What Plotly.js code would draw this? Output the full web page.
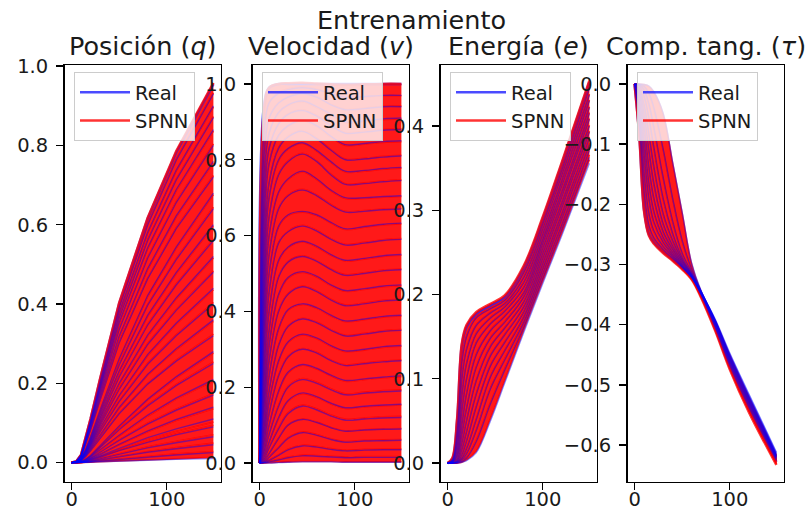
<!DOCTYPE html>
<html>
<head>
<meta charset="utf-8">
<script src="https://cdn.plot.ly/plotly-3.0.1.min.js"></script>
<style>
  html, body { margin: 0; padding: 0; background: #ffffff; }
  #chart { width: 807px; height: 512px; }
</style>
</head>
<body>
<div id="chart"></div>
<script>
// ---- Data -------------------------------------------------------------
// Sample instants for each state component
const tPos = [0, 5, 10, 15, 20, 30, 50, 80, 110, 149];
const tVel = [0, 5, 10, 20, 30, 45, 60, 75, 90, 110, 130, 149];
const tEne = [0, 5, 10, 15, 20, 30, 45, 60, 80, 100, 120, 149];
const tTau = [0, 5, 10, 15, 20, 30, 40, 50, 60, 70, 85, 100, 120, 149];

// Position q: one row per training trajectory
const posReal = [
  [0, 0.003, 0.019, 0.062, 0.110, 0.210, 0.401, 0.616, 0.783, 0.955],
  [0, 0.003, 0.019, 0.060, 0.107, 0.205, 0.391, 0.600, 0.763, 0.930],
  [0, 0.003, 0.018, 0.059, 0.104, 0.198, 0.378, 0.581, 0.738, 0.900],
  [0, 0.003, 0.017, 0.057, 0.100, 0.191, 0.365, 0.561, 0.713, 0.870],
  [0, 0.002, 0.017, 0.055, 0.097, 0.185, 0.353, 0.542, 0.689, 0.840],
  [0, 0.002, 0.016, 0.052, 0.092, 0.176, 0.336, 0.516, 0.656, 0.800],
  [0, 0.002, 0.015, 0.049, 0.087, 0.167, 0.319, 0.490, 0.623, 0.760],
  [0, 0.002, 0.014, 0.047, 0.083, 0.158, 0.302, 0.464, 0.590, 0.720],
  [0, 0.001, 0.010, 0.034, 0.065, 0.133, 0.262, 0.422, 0.544, 0.680],
  [0, 0.001, 0.010, 0.032, 0.061, 0.125, 0.246, 0.397, 0.512, 0.640],
  [0, 0.001, 0.009, 0.030, 0.057, 0.117, 0.231, 0.372, 0.480, 0.600],
  [0, 0.001, 0.008, 0.028, 0.053, 0.109, 0.216, 0.347, 0.448, 0.560],
  [0, 0.001, 0.008, 0.026, 0.049, 0.101, 0.200, 0.322, 0.416, 0.520],
  [0, 0.001, 0.007, 0.024, 0.046, 0.094, 0.185, 0.298, 0.384, 0.480],
  [0, 0.001, 0.007, 0.022, 0.042, 0.086, 0.169, 0.273, 0.352, 0.440],
  [0, 0.001, 0.006, 0.020, 0.038, 0.078, 0.154, 0.248, 0.320, 0.400],
  [0, 0.001, 0.005, 0.018, 0.034, 0.070, 0.139, 0.223, 0.288, 0.360],
  [0, 0.001, 0.005, 0.016, 0.030, 0.062, 0.123, 0.198, 0.256, 0.320],
  [0, 0.000, 0.002, 0.008, 0.018, 0.042, 0.092, 0.160, 0.217, 0.280],
  [0, 0.000, 0.002, 0.008, 0.016, 0.038, 0.083, 0.143, 0.194, 0.250],
  [0, 0.000, 0.002, 0.006, 0.014, 0.032, 0.069, 0.120, 0.163, 0.210],
  [0, 0.000, 0.001, 0.005, 0.011, 0.026, 0.056, 0.097, 0.132, 0.170],
  [0, 0.000, 0.001, 0.004, 0.009, 0.021, 0.046, 0.080, 0.109, 0.140],
  [0, 0.000, 0.001, 0.003, 0.007, 0.017, 0.036, 0.063, 0.085, 0.110],
  [0, 0.000, 0.001, 0.003, 0.006, 0.014, 0.030, 0.051, 0.070, 0.090],
  [0, 0.000, 0.000, 0.002, 0.004, 0.010, 0.021, 0.037, 0.050, 0.065],
  [0, 0.000, 0.000, 0.001, 0.003, 0.007, 0.015, 0.026, 0.035, 0.045],
  [0, 0.000, 0.000, 0.001, 0.002, 0.004, 0.008, 0.014, 0.019, 0.025],
  [0, 0.000, 0.000, 0.000, 0.001, 0.002, 0.003, 0.006, 0.008, 0.010]
];
const posSpnn = [
  [0, 0.003, 0.020, 0.063, 0.111, 0.212, 0.403, 0.618, 0.786, 0.958],
  [0, 0.003, 0.019, 0.061, 0.108, 0.206, 0.393, 0.602, 0.766, 0.933],
  [0, 0.003, 0.018, 0.058, 0.103, 0.197, 0.377, 0.579, 0.736, 0.897],
  [0, 0.003, 0.018, 0.057, 0.101, 0.192, 0.367, 0.563, 0.716, 0.873],
  [0, 0.002, 0.016, 0.054, 0.096, 0.183, 0.351, 0.540, 0.686, 0.836],
  [0, 0.002, 0.016, 0.053, 0.093, 0.177, 0.338, 0.519, 0.659, 0.804],
  [0, 0.002, 0.015, 0.049, 0.086, 0.166, 0.317, 0.487, 0.620, 0.756],
  [0, 0.002, 0.014, 0.047, 0.084, 0.159, 0.304, 0.466, 0.593, 0.724],
  [0, 0.001, 0.010, 0.034, 0.064, 0.131, 0.259, 0.419, 0.541, 0.676],
  [0, 0.001, 0.010, 0.033, 0.062, 0.126, 0.248, 0.399, 0.515, 0.644],
  [0, 0.001, 0.009, 0.030, 0.056, 0.116, 0.229, 0.369, 0.477, 0.596],
  [0, 0.001, 0.008, 0.028, 0.054, 0.110, 0.218, 0.350, 0.451, 0.564],
  [0, 0.001, 0.008, 0.026, 0.048, 0.100, 0.198, 0.319, 0.413, 0.516],
  [0, 0.001, 0.007, 0.024, 0.046, 0.095, 0.187, 0.301, 0.387, 0.484],
  [0, 0.001, 0.007, 0.022, 0.041, 0.085, 0.167, 0.270, 0.349, 0.436],
  [0, 0.001, 0.006, 0.020, 0.038, 0.079, 0.156, 0.251, 0.323, 0.404],
  [0, 0.001, 0.005, 0.018, 0.034, 0.069, 0.137, 0.221, 0.285, 0.356],
  [0, 0.001, 0.005, 0.016, 0.031, 0.063, 0.125, 0.200, 0.259, 0.324],
  [0, 0.000, 0.002, 0.008, 0.018, 0.041, 0.090, 0.158, 0.214, 0.276],
  [0, 0.000, 0.002, 0.008, 0.016, 0.039, 0.085, 0.146, 0.197, 0.254],
  [0, 0.000, 0.002, 0.006, 0.013, 0.031, 0.067, 0.117, 0.160, 0.206],
  [0, 0.000, 0.001, 0.005, 0.011, 0.027, 0.058, 0.100, 0.135, 0.174],
  [0, 0.000, 0.001, 0.004, 0.009, 0.021, 0.045, 0.078, 0.106, 0.136],
  [0, 0.000, 0.001, 0.003, 0.006, 0.015, 0.033, 0.058, 0.079, 0.102],
  [0, 0.000, 0.001, 0.003, 0.006, 0.014, 0.031, 0.053, 0.073, 0.094],
  [0, 0.000, 0.000, 0.002, 0.004, 0.011, 0.023, 0.040, 0.054, 0.070],
  [0, 0.000, 0.000, 0.001, 0.003, 0.007, 0.016, 0.028, 0.038, 0.049],
  [0, 0.000, 0.000, 0.001, 0.002, 0.005, 0.009, 0.016, 0.022, 0.028],
  [0, 0.000, 0.000, 0.000, 0.001, 0.002, 0.004, 0.007, 0.010, 0.013]
];

// Velocity v
const velReal = [
  [0, 0.95, 0.99, 1.000, 1.000, 1.000, 1.000, 1.000, 1.000, 1.000, 1.000, 1.000],
  [0, 0.88, 0.95, 0.975, 0.985, 0.990, 0.985, 0.975, 0.965, 0.967, 0.970, 0.970],
  [0, 0.82, 0.91, 0.950, 0.965, 0.975, 0.965, 0.945, 0.932, 0.935, 0.940, 0.940],
  [0, 0.76, 0.87, 0.925, 0.945, 0.955, 0.940, 0.920, 0.900, 0.903, 0.908, 0.910],
  [0, 0.70, 0.83, 0.895, 0.920, 0.930, 0.915, 0.890, 0.870, 0.873, 0.878, 0.880],
  [0, 0.64, 0.79, 0.865, 0.890, 0.905, 0.890, 0.862, 0.840, 0.843, 0.848, 0.850],
  [0, 0.58, 0.74, 0.830, 0.860, 0.875, 0.855, 0.825, 0.800, 0.802, 0.807, 0.810],
  [0, 0.52, 0.70, 0.800, 0.830, 0.845, 0.825, 0.795, 0.770, 0.772, 0.777, 0.780],
  [0, 0.47, 0.65, 0.760, 0.795, 0.815, 0.795, 0.760, 0.735, 0.737, 0.742, 0.745],
  [0, 0.42, 0.60, 0.715, 0.750, 0.770, 0.750, 0.720, 0.700, 0.700, 0.703, 0.705],
  [0, 0.37, 0.55, 0.670, 0.705, 0.720, 0.705, 0.680, 0.662, 0.664, 0.668, 0.670],
  [0, 0.33, 0.50, 0.625, 0.655, 0.664, 0.655, 0.635, 0.618, 0.624, 0.630, 0.633],
  [0, 0.28, 0.45, 0.580, 0.610, 0.625, 0.612, 0.590, 0.575, 0.580, 0.587, 0.590],
  [0, 0.24, 0.40, 0.535, 0.570, 0.585, 0.572, 0.550, 0.535, 0.540, 0.547, 0.550],
  [0, 0.20, 0.35, 0.490, 0.530, 0.545, 0.532, 0.510, 0.495, 0.500, 0.507, 0.510],
  [0, 0.17, 0.31, 0.445, 0.490, 0.505, 0.493, 0.470, 0.455, 0.460, 0.467, 0.470],
  [0, 0.14, 0.27, 0.400, 0.445, 0.465, 0.452, 0.430, 0.415, 0.420, 0.427, 0.430],
  [0, 0.11, 0.23, 0.355, 0.405, 0.420, 0.410, 0.390, 0.375, 0.380, 0.387, 0.390],
  [0, 0.09, 0.19, 0.310, 0.360, 0.380, 0.370, 0.350, 0.335, 0.340, 0.347, 0.350],
  [0, 0.07, 0.16, 0.270, 0.320, 0.340, 0.330, 0.310, 0.296, 0.300, 0.307, 0.310],
  [0, 0.055, 0.13, 0.230, 0.280, 0.300, 0.290, 0.270, 0.257, 0.262, 0.267, 0.270],
  [0, 0.04, 0.10, 0.190, 0.240, 0.260, 0.250, 0.232, 0.218, 0.222, 0.227, 0.230],
  [0, 0.03, 0.075, 0.150, 0.200, 0.220, 0.210, 0.193, 0.180, 0.184, 0.188, 0.190],
  [0, 0.02, 0.055, 0.120, 0.165, 0.185, 0.175, 0.158, 0.146, 0.150, 0.153, 0.155],
  [0, 0.013, 0.04, 0.090, 0.130, 0.150, 0.140, 0.124, 0.113, 0.116, 0.119, 0.120],
  [0, 0.008, 0.025, 0.065, 0.100, 0.115, 0.107, 0.093, 0.084, 0.087, 0.089, 0.090],
  [0, 0.004, 0.015, 0.040, 0.065, 0.080, 0.073, 0.062, 0.055, 0.058, 0.059, 0.060],
  [0, 0.002, 0.007, 0.020, 0.035, 0.045, 0.042, 0.036, 0.032, 0.034, 0.035, 0.035],
  [0, 0.001, 0.003, 0.008, 0.014, 0.019, 0.018, 0.016, 0.014, 0.015, 0.015, 0.015],
  [0, 0.000, 0.000, 0.001, 0.002, 0.003, 0.003, 0.003, 0.002, 0.002, 0.002, 0.002]
];
const velSpnn = [
  [0, 0.94, 0.99, 1.000, 1.002, 1.003, 1.001, 0.999, 0.998, 0.999, 1.000, 1.000],
  [0, 0.87, 0.95, 0.977, 0.987, 0.992, 0.986, 0.974, 0.963, 0.966, 0.969, 0.969],
  [0, 0.81, 0.91, 0.951, 0.966, 0.977, 0.966, 0.946, 0.933, 0.936, 0.941, 0.942],
  [0, 0.75, 0.87, 0.924, 0.944, 0.953, 0.938, 0.918, 0.898, 0.901, 0.906, 0.908],
  [0, 0.69, 0.83, 0.896, 0.921, 0.932, 0.917, 0.892, 0.872, 0.875, 0.880, 0.882],
  [0, 0.63, 0.79, 0.864, 0.889, 0.903, 0.888, 0.860, 0.838, 0.841, 0.846, 0.848],
  [0, 0.58, 0.74, 0.832, 0.862, 0.877, 0.857, 0.827, 0.802, 0.804, 0.809, 0.812],
  [0, 0.52, 0.70, 0.798, 0.828, 0.843, 0.823, 0.793, 0.768, 0.770, 0.775, 0.778],
  [0, 0.47, 0.65, 0.762, 0.797, 0.817, 0.797, 0.762, 0.737, 0.739, 0.744, 0.747],
  [0, 0.42, 0.60, 0.713, 0.748, 0.768, 0.748, 0.718, 0.698, 0.698, 0.701, 0.703],
  [0, 0.37, 0.55, 0.672, 0.707, 0.722, 0.707, 0.682, 0.664, 0.666, 0.670, 0.672],
  [0, 0.33, 0.50, 0.623, 0.653, 0.662, 0.653, 0.633, 0.616, 0.622, 0.628, 0.631],
  [0, 0.28, 0.45, 0.582, 0.612, 0.627, 0.614, 0.592, 0.577, 0.582, 0.589, 0.592],
  [0, 0.24, 0.40, 0.533, 0.568, 0.583, 0.570, 0.548, 0.533, 0.538, 0.545, 0.548],
  [0, 0.20, 0.35, 0.492, 0.532, 0.547, 0.534, 0.512, 0.497, 0.502, 0.509, 0.512],
  [0, 0.17, 0.31, 0.443, 0.488, 0.503, 0.491, 0.468, 0.453, 0.458, 0.465, 0.468],
  [0, 0.14, 0.27, 0.402, 0.447, 0.467, 0.454, 0.432, 0.417, 0.422, 0.429, 0.432],
  [0, 0.11, 0.23, 0.353, 0.403, 0.418, 0.408, 0.388, 0.373, 0.378, 0.385, 0.388],
  [0, 0.09, 0.19, 0.312, 0.362, 0.382, 0.372, 0.352, 0.337, 0.342, 0.349, 0.352],
  [0, 0.07, 0.16, 0.268, 0.318, 0.338, 0.328, 0.308, 0.294, 0.298, 0.305, 0.308],
  [0, 0.055, 0.13, 0.232, 0.282, 0.302, 0.292, 0.272, 0.259, 0.264, 0.269, 0.272],
  [0, 0.04, 0.10, 0.188, 0.238, 0.258, 0.248, 0.230, 0.216, 0.220, 0.225, 0.228],
  [0, 0.03, 0.078, 0.153, 0.203, 0.223, 0.213, 0.196, 0.183, 0.187, 0.191, 0.193],
  [0, 0.02, 0.055, 0.118, 0.163, 0.183, 0.173, 0.156, 0.144, 0.148, 0.151, 0.153],
  [0, 0.014, 0.042, 0.093, 0.133, 0.153, 0.143, 0.127, 0.116, 0.119, 0.122, 0.123],
  [0, 0.008, 0.026, 0.066, 0.101, 0.116, 0.108, 0.094, 0.085, 0.088, 0.090, 0.091],
  [0, 0.004, 0.016, 0.042, 0.067, 0.082, 0.075, 0.064, 0.057, 0.060, 0.061, 0.062],
  [0, 0.002, 0.008, 0.022, 0.037, 0.047, 0.044, 0.038, 0.034, 0.036, 0.037, 0.037],
  [0, 0.001, 0.004, 0.010, 0.016, 0.021, 0.020, 0.018, 0.016, 0.017, 0.017, 0.017],
  [0, 0.000, 0.001, 0.002, 0.003, 0.004, 0.004, 0.004, 0.003, 0.003, 0.003, 0.003]
];

// Energy e
const eneReal = [
  [0, 0.005, 0.050, 0.140, 0.162, 0.177, 0.187, 0.197, 0.232, 0.290, 0.355, 0.452],
  [0, 0.004, 0.040, 0.120, 0.150, 0.172, 0.183, 0.193, 0.226, 0.284, 0.348, 0.445],
  [0, 0.003, 0.030, 0.100, 0.135, 0.163, 0.178, 0.189, 0.220, 0.278, 0.342, 0.437],
  [0, 0.002, 0.022, 0.080, 0.118, 0.153, 0.172, 0.185, 0.214, 0.272, 0.335, 0.430],
  [0, 0.002, 0.016, 0.062, 0.100, 0.142, 0.165, 0.180, 0.208, 0.266, 0.329, 0.422],
  [0, 0.001, 0.011, 0.046, 0.082, 0.128, 0.157, 0.174, 0.202, 0.261, 0.322, 0.415],
  [0, 0.001, 0.008, 0.034, 0.065, 0.113, 0.148, 0.167, 0.197, 0.255, 0.316, 0.408],
  [0, 0.001, 0.005, 0.024, 0.050, 0.097, 0.138, 0.160, 0.191, 0.249, 0.309, 0.400],
  [0, 0.000, 0.003, 0.016, 0.037, 0.081, 0.127, 0.152, 0.185, 0.243, 0.303, 0.393],
  [0, 0.000, 0.002, 0.010, 0.026, 0.066, 0.115, 0.143, 0.179, 0.237, 0.296, 0.386],
  [0, 0.000, 0.001, 0.006, 0.017, 0.051, 0.102, 0.133, 0.173, 0.231, 0.290, 0.378],
  [0, 0.000, 0.001, 0.004, 0.011, 0.038, 0.088, 0.122, 0.167, 0.225, 0.283, 0.371],
  [0, 0.000, 0.000, 0.002, 0.006, 0.025, 0.070, 0.110, 0.161, 0.219, 0.277, 0.363],
  [0, 0.000, 0.000, 0.001, 0.003, 0.012, 0.050, 0.095, 0.155, 0.213, 0.270, 0.356]
];
const eneSpnn = [
  [0, 0.006, 0.052, 0.142, 0.164, 0.179, 0.189, 0.199, 0.234, 0.292, 0.357, 0.454],
  [0, 0.004, 0.041, 0.121, 0.151, 0.173, 0.184, 0.194, 0.227, 0.285, 0.349, 0.446],
  [0, 0.003, 0.031, 0.101, 0.136, 0.164, 0.179, 0.190, 0.221, 0.279, 0.343, 0.438],
  [0, 0.002, 0.023, 0.081, 0.119, 0.154, 0.173, 0.186, 0.215, 0.273, 0.336, 0.431],
  [0, 0.002, 0.017, 0.063, 0.101, 0.143, 0.166, 0.181, 0.209, 0.267, 0.330, 0.423],
  [0, 0.001, 0.012, 0.047, 0.083, 0.129, 0.158, 0.175, 0.203, 0.262, 0.323, 0.416],
  [0, 0.001, 0.009, 0.035, 0.066, 0.114, 0.149, 0.168, 0.198, 0.256, 0.317, 0.409],
  [0, 0.001, 0.006, 0.025, 0.051, 0.098, 0.139, 0.161, 0.192, 0.250, 0.310, 0.401],
  [0, 0.000, 0.004, 0.017, 0.038, 0.082, 0.128, 0.153, 0.186, 0.244, 0.304, 0.394],
  [0, 0.000, 0.002, 0.011, 0.027, 0.067, 0.116, 0.144, 0.180, 0.238, 0.297, 0.387],
  [0, 0.000, 0.001, 0.007, 0.018, 0.052, 0.103, 0.134, 0.174, 0.232, 0.291, 0.380],
  [0, 0.000, 0.001, 0.005, 0.012, 0.039, 0.089, 0.124, 0.169, 0.227, 0.285, 0.373],
  [0, 0.000, 0.000, 0.003, 0.007, 0.027, 0.072, 0.112, 0.163, 0.221, 0.279, 0.366],
  [0, 0.000, 0.000, 0.001, 0.004, 0.014, 0.053, 0.098, 0.158, 0.216, 0.273, 0.360]
];

// Tangential component tau
const tauReal = [
  [0, -0.085, -0.210, -0.250, -0.263, -0.279, -0.292, -0.306, -0.322, -0.352, -0.408, -0.470, -0.540, -0.628],
  [0, -0.070, -0.180, -0.235, -0.255, -0.275, -0.290, -0.305, -0.322, -0.351, -0.406, -0.468, -0.537, -0.626],
  [0, -0.055, -0.150, -0.215, -0.243, -0.270, -0.287, -0.304, -0.322, -0.350, -0.404, -0.465, -0.534, -0.624],
  [0, -0.042, -0.120, -0.190, -0.228, -0.263, -0.284, -0.303, -0.321, -0.349, -0.402, -0.462, -0.531, -0.622],
  [0, -0.030, -0.095, -0.165, -0.210, -0.255, -0.280, -0.301, -0.320, -0.348, -0.400, -0.460, -0.529, -0.621],
  [0, -0.020, -0.072, -0.138, -0.188, -0.245, -0.275, -0.299, -0.319, -0.347, -0.398, -0.458, -0.527, -0.620],
  [0, -0.013, -0.052, -0.110, -0.163, -0.232, -0.269, -0.296, -0.318, -0.347, -0.397, -0.456, -0.525, -0.619],
  [0, -0.008, -0.035, -0.083, -0.135, -0.215, -0.260, -0.293, -0.317, -0.346, -0.396, -0.455, -0.523, -0.618],
  [0, -0.004, -0.020, -0.056, -0.103, -0.190, -0.248, -0.289, -0.316, -0.346, -0.395, -0.453, -0.521, -0.617],
  [0, -0.002, -0.010, -0.033, -0.070, -0.155, -0.228, -0.281, -0.313, -0.345, -0.394, -0.451, -0.519, -0.615],
  [0, -0.001, -0.004, -0.015, -0.038, -0.108, -0.190, -0.260, -0.308, -0.345, -0.393, -0.449, -0.517, -0.614],
  [0, 0.000, -0.001, -0.003, -0.012, -0.048, -0.130, -0.213, -0.298, -0.344, -0.392, -0.447, -0.515, -0.612]
];
const tauSpnn = [
  [0, -0.088, -0.212, -0.252, -0.265, -0.281, -0.294, -0.308, -0.325, -0.355, -0.411, -0.474, -0.545, -0.633],
  [0, -0.072, -0.182, -0.237, -0.257, -0.277, -0.292, -0.307, -0.324, -0.354, -0.409, -0.472, -0.542, -0.631],
  [0, -0.057, -0.152, -0.217, -0.245, -0.272, -0.289, -0.306, -0.324, -0.353, -0.407, -0.469, -0.539, -0.629],
  [0, -0.044, -0.122, -0.192, -0.230, -0.265, -0.286, -0.305, -0.323, -0.352, -0.405, -0.466, -0.536, -0.627],
  [0, -0.032, -0.097, -0.167, -0.212, -0.257, -0.282, -0.303, -0.322, -0.351, -0.403, -0.464, -0.534, -0.626],
  [0, -0.022, -0.074, -0.140, -0.190, -0.247, -0.277, -0.301, -0.321, -0.350, -0.401, -0.462, -0.532, -0.625],
  [0, -0.014, -0.054, -0.112, -0.165, -0.234, -0.271, -0.298, -0.320, -0.349, -0.400, -0.460, -0.530, -0.624],
  [0, -0.009, -0.037, -0.085, -0.137, -0.217, -0.262, -0.295, -0.319, -0.348, -0.399, -0.459, -0.528, -0.623],
  [0, -0.005, -0.022, -0.058, -0.105, -0.192, -0.250, -0.291, -0.318, -0.348, -0.398, -0.457, -0.526, -0.622],
  [0, -0.002, -0.011, -0.035, -0.072, -0.157, -0.230, -0.283, -0.315, -0.347, -0.397, -0.455, -0.524, -0.620],
  [0, -0.001, -0.005, -0.017, -0.040, -0.110, -0.192, -0.262, -0.310, -0.347, -0.396, -0.453, -0.522, -0.619],
  [0, 0.000, -0.001, -0.004, -0.013, -0.050, -0.132, -0.215, -0.300, -0.346, -0.395, -0.451, -0.520, -0.617]
];

// Labels
const figureTitle = 'Entrenamiento';
const panelTitles = ['Posición (<i>q</i>)', 'Velocidad (<i>v</i>)', 'Energía (<i>e</i>)', 'Comp. tang. (<i>τ</i>)'];
const seriesNames = ['Real', 'SPNN'];
const xTickVals = [0, 100];
const xTickText = ['0', '100'];
const yTickVals = [
  [0, 0.2, 0.4, 0.6, 0.8, 1.0],
  [0, 0.2, 0.4, 0.6, 0.8, 1.0],
  [0, 0.1, 0.2, 0.3, 0.4],
  [-0.6, -0.5, -0.4, -0.3, -0.2, -0.1, 0.0]
];
const yTickText = [
  ['0.0', '0.2', '0.4', '0.6', '0.8', '1.0'],
  ['0.0', '0.2', '0.4', '0.6', '0.8', '1.0'],
  ['0.0', '0.1', '0.2', '0.3', '0.4'],
  ['\u22120.6', '\u22120.5', '\u22120.4', '\u22120.3', '\u22120.2', '\u22120.1', '0.0']
];

// ---- Layout geometry (pixels) -------------------------------------------
const W = 807, H = 512;
const panelLeft = [64.5, 252.5, 440.5, 627.5];
const panelWidth = 156;
const panelTop = 65, panelBottom = 482;
const xRange = [-7.45, 156.45];
const yRanges = [[-0.049, 1.003], [-0.05, 1.05], [-0.0225, 0.4725], [-0.6615, 0.0315]];
const lineShapes = ['linear', 'spline', 'spline', 'spline'];

const panels = [
  { t: tPos, real: posReal, spnn: posSpnn },
  { t: tVel, real: velReal, spnn: velSpnn },
  { t: tEne, real: eneReal, spnn: eneSpnn },
  { t: tTau, real: tauReal, spnn: tauSpnn }
];

const TEXT = '#1a1a1a';
const FONT = 'DejaVu Sans, Verdana, sans-serif';
const TICK_SIZE = 19.5, TITLE_SIZE = 25.5;
const traces = [];
const layout = {
  width: W, height: H,
  margin: { l: 0, r: 0, t: 0, b: 0 },
  paper_bgcolor: '#ffffff', plot_bgcolor: '#ffffff',
  font: { family: FONT, size: TICK_SIZE, color: TEXT },
  showlegend: true,
  annotations: []
};

panels.forEach((p, k) => {
  const suffix = k === 0 ? '' : String(k + 1);
  const xa = 'x' + suffix, ya = 'y' + suffix;
  const legendId = 'legend' + suffix;
  const shape = lineShapes[k];

  const realLine = (row, i) => ({
    type: 'scatter', mode: 'lines', x: p.t, y: row, xaxis: xa, yaxis: ya,
    name: seriesNames[0], legend: legendId,
    line: { color: i === 0 ? 'rgba(30,30,255,0.8)' : 'rgba(0,0,255,0.45)', width: i === 0 ? 2.6 : 1.4, shape: shape },
    showlegend: i === 0, hoverinfo: 'skip'
  });

  // dense band of SPNN trajectories: fill between neighbouring curves
  p.spnn.forEach((row, i) => traces.push({
    type: 'scatter', mode: 'lines', x: p.t, y: row, xaxis: xa, yaxis: ya,
    line: { width: 0, shape: shape },
    fill: i === 0 ? 'none' : 'tonexty',
    fillcolor: 'rgba(255,0,0,0.9)',
    showlegend: false, hoverinfo: 'skip'
  }));
  // first Real curve carries the legend entry, so it comes first in the legend
  traces.push(realLine(p.real[0], 0));
  // SPNN curves
  p.spnn.forEach((row, i) => traces.push({
    type: 'scatter', mode: 'lines', x: p.t, y: row, xaxis: xa, yaxis: ya,
    name: seriesNames[1], legend: legendId,
    line: { color: 'rgba(255,0,0,0.8)', width: i === 0 ? 2.6 : 1.6, shape: shape },
    showlegend: i === 0, hoverinfo: 'skip'
  }));
  // remaining Real curves on top
  p.real.slice(1).forEach((row, i) => traces.push(realLine(row, i + 1)));

  const axisCommon = {
    showline: true, mirror: true, linecolor: '#000000', linewidth: 1.4,
    ticks: 'outside', ticklen: 7, tickwidth: 1.4, tickcolor: '#000000',
    showgrid: false, zeroline: false, fixedrange: true,
    tickfont: { family: FONT, size: TICK_SIZE, color: TEXT }
  };
  layout['xaxis' + suffix] = Object.assign({}, axisCommon, {
    domain: [panelLeft[k] / W, (panelLeft[k] + panelWidth) / W],
    range: xRange, anchor: ya,
    tickmode: 'array', tickvals: xTickVals, ticktext: xTickText,
    ticklabelstandoff: -8
  });
  layout['yaxis' + suffix] = Object.assign({}, axisCommon, {
    domain: [1 - panelBottom / H, 1 - panelTop / H],
    range: yRanges[k], anchor: xa,
    tickmode: 'array', tickvals: yTickVals[k], ticktext: yTickText[k],
    ticklabelstandoff: 4
  });

  layout[legendId] = {
    x: (panelLeft[k] + 9.5) / W, y: 1 - 72 / H,
    xanchor: 'left', yanchor: 'top',
    bgcolor: 'rgba(255,255,255,0.8)', bordercolor: '#cccccc', borderwidth: 1,
    font: { family: FONT, size: TICK_SIZE, color: TEXT },
    itemwidth: 50, tracegroupgap: 0, traceorder: 'normal'
  };

  layout.annotations.push({
    text: panelTitles[k], xref: 'paper', yref: 'paper',
    x: (panelLeft[k] + panelWidth / 2) / W, y: 1 - 46 / H,
    xanchor: 'center', yanchor: 'middle', showarrow: false,
    font: { family: FONT, size: TITLE_SIZE, color: TEXT }
  });
});

layout.annotations.push({
  text: figureTitle, xref: 'paper', yref: 'paper',
  x: 411 / W, y: 1 - 20 / H, xanchor: 'center', yanchor: 'middle', showarrow: false,
  font: { family: FONT, size: TITLE_SIZE, color: TEXT }
});

Plotly.newPlot('chart', traces, layout, { staticPlot: true, displayModeBar: false });
</script>
</body>
</html>
